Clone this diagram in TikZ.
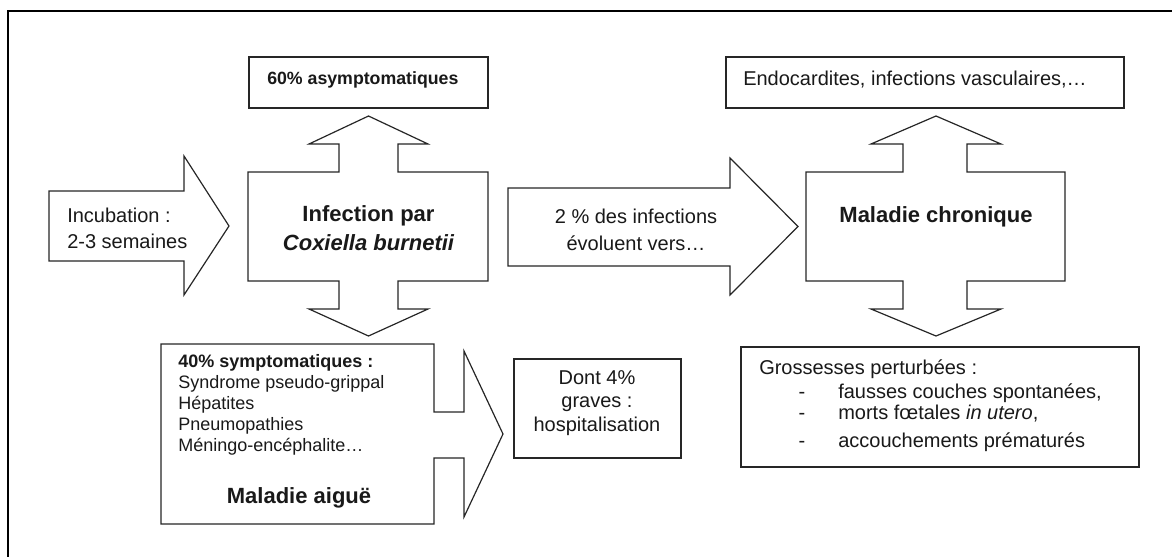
\documentclass[tikz,border=0pt]{standalone}
\usepackage{fontspec}
\setmainfont{Liberation Sans}
\begin{document}
\begin{tikzpicture}[x=0.75pt,y=-0.75pt,
  blk/.style={draw=black!85,line width=0.9pt,line join=miter,fill=white},
  frm/.style={draw=black,line width=2.2pt},
  txt/.style={font=\fontsize{15}{18}\selectfont,inner sep=0pt,text=black!90},
  hd/.style={font=\fontsize{16.5}{20}\selectfont\bfseries,inner sep=0pt,text=black!90},
  sm/.style={font=\fontsize{13.5}{16}\selectfont,inner sep=0pt,text=black!90}]
\useasboundingbox (0,0) rectangle (1172,557);
% frame (top and left edges)
\draw[frm] (8,557) -- (8,11) -- (1172,11);
% top boxes
\draw[blk] (249,57) rectangle (488,108);
\draw[blk] (726,57) rectangle (1124,108);
% incubation arrow
\draw[blk] (49,191) -- (184,191) -- (184,156) -- (229,226) -- (184,295) -- (184,261) -- (49,261) -- cycle;
% central cross
\draw[blk] (248,172) -- (339,172) -- (339,144) -- (309,144) -- (368.5,116) -- (428,144) -- (398,144) -- (398,172) -- (488,172) -- (488,281) -- (398,281) -- (398,309) -- (428,309) -- (368.5,336) -- (309,309) -- (339,309) -- (339,281) -- (248,281) -- cycle;
% middle arrow
\draw[blk] (508,188) -- (730,188) -- (730,158) -- (798,226.5) -- (730,295) -- (730,266) -- (508,266) -- cycle;
% right cross
\draw[blk] (806,172) -- (903,172) -- (903,144) -- (871,144) -- (936,116) -- (1001,144) -- (967,144) -- (967,172) -- (1065,172) -- (1065,281) -- (967,281) -- (967,309) -- (1001,309) -- (936,336) -- (871,309) -- (903,309) -- (903,281) -- (806,281) -- cycle;
% acute disease arrow box
\draw[blk] (161,344) -- (434,344) -- (434,412) -- (464,412) -- (464,351) -- (503,434) -- (464,517) -- (464,458) -- (434,458) -- (434,524) -- (161,524) -- cycle;
% bottom boxes
\draw[blk] (514,359) rectangle (681,458);
\draw[blk] (741,347) rectangle (1139,467);
% texts
\node[sm,font=\fontsize{13.3}{16}\selectfont\bfseries,anchor=base west] (asy) at (267,84) {60\% asymptomatiques};
\node[txt,anchor=base west] (endo) at (743,85) {Endocardites, infections vasculaires,…};
\node[txt,anchor=base west] (inc1) at (67,222) {Incubation :};
\node[txt,anchor=base west] (inc2) at (67,248) {2-3 semaines};
\node[hd,anchor=base] (inf1) at (368.5,221) {Infection par};
\node[hd,anchor=base] (inf2) at (368.5,250) {\itshape Coxiella burnetii};
\node[txt,anchor=base] (evo1) at (636,223) {2 \% des infections};
\node[txt,anchor=base] (evo2) at (636,250) {évoluent vers…};
\node[hd,anchor=base] (chro) at (936,222) {Maladie chronique};
\node[sm,font=\fontsize{13.5}{16}\selectfont\bfseries,anchor=base west] (sym0) at (178,367) {40\% symptomatiques :};
\node[sm,anchor=base west] (sym1) at (178,388) {Syndrome pseudo-grippal};
\node[sm,anchor=base west] (sym2) at (178,409) {Hépatites};
\node[sm,anchor=base west] (sym3) at (178,430) {Pneumopathies};
\node[sm,anchor=base west] (sym4) at (178,451) {Méningo-encéphalite…};
\node[hd,anchor=base] (aig) at (299,503) {Maladie aiguë};
\node[txt,anchor=base] (don1) at (597,384) {Dont 4\%};
\node[txt,anchor=base] (don2) at (597,407.5) {graves :};
\node[txt,anchor=base] (don3) at (597,431) {hospitalisation};
\node[txt,anchor=base west] (gro0) at (759,374) {Grossesses perturbées :};
\node[txt,anchor=base] (d1) at (802,398.5) {-};
\node[txt,anchor=base west] (gro1) at (838,398.5) {fausses couches spontanées,};
\node[txt,anchor=base] (d2) at (802,419.5) {-};
\node[txt,anchor=base west] (gro2) at (838,419.5) {morts fœtales \textit{in utero},};
\node[txt,anchor=base] (d3) at (802,447.5) {-};
\node[txt,anchor=base west] (gro3) at (838,447.5) {accouchements prématurés};
\end{tikzpicture}
\end{document}
